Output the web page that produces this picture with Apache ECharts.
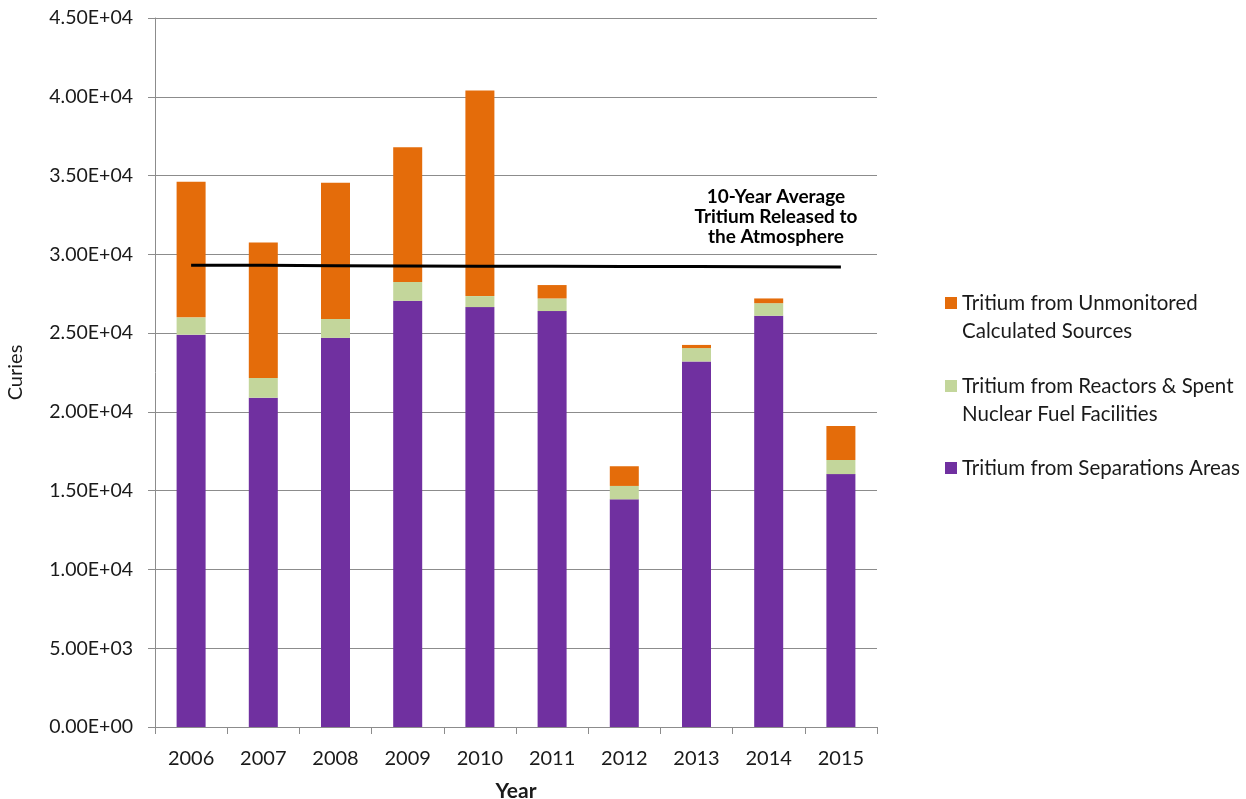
<!DOCTYPE html>
<html>
<head>
<meta charset="utf-8">
<script src="https://cdn.jsdelivr.net/npm/echarts@6/dist/echarts.min.js"></script>
<style>
html,body{margin:0;padding:0;background:#fff;}
#chart{width:1246px;height:799px;}
</style>
</head>
<body>
<div id="chart"></div>
<script>
var years = ['2006','2007','2008','2009','2010','2011','2012','2013','2014','2015'];
var separations = [24900, 20900, 24700, 27050, 26650, 26400, 14450, 23200, 26100, 16050];
var reactors    = [1100, 1250, 1200, 1200, 700, 800, 850, 850, 800, 900];
var unmonitored = [8600, 8600, 8650, 8550, 13050, 850, 1250, 200, 300, 2150];
var tenYearAverage = [29300, 29300, 29280, 29260, 29250, 29240, 29230, 29220, 29210, 29200];
var seriesNames = ['Tritium from Separations Areas', 'Tritium from Reactors & Spent Nuclear Fuel Facilities', 'Tritium from Unmonitored Calculated Sources'];
var legendText = {
  'Tritium from Unmonitored Calculated Sources': '\nTritium from Unmonitored\nCalculated Sources',
  'Tritium from Reactors & Spent Nuclear Fuel Facilities': '\nTritium from Reactors & Spent\nNuclear Fuel Facilities',
  'Tritium from Separations Areas': 'Tritium from Separations Areas'
};
var avgLabel = '10-Year Average\nTritium Released to\nthe Atmosphere';

var chart = echarts.init(document.getElementById('chart'));
var gridColor = '#8c8c8c';
var legendFont = {fontFamily: 'Lato', fontSize: 20.5, color: '#1a1a1a', lineHeight: 28};
function mkLegend(name, top) {
  return {
    data: [name], left: 945, top: top, orient: 'vertical', padding: 0,
    itemWidth: 12, itemHeight: 12, itemGap: 0, icon: 'rect',
    textStyle: legendFont, selectedMode: false,
    formatter: function (n) { return legendText[n]; }
  };
}
function fmtSci(v) {
  var s = v.toExponential(2).toUpperCase();
  var m = s.split('E');
  var sign = m[1].charAt(0);
  var ex = m[1].slice(1);
  if (ex.length < 2) ex = '0' + ex;
  return m[0] + 'E' + sign + ex;
}
chart.setOption({
  animation: false,
  backgroundColor: '#fff',
  grid: {left: 155, right: 369, top: 18, bottom: 72, containLabel: false, outerBoundsMode: 'none'},
  legend: [
    mkLegend(seriesNames[2], 261),
    mkLegend(seriesNames[1], 344),
    mkLegend(seriesNames[0], 454)
  ],
  xAxis: {
    type: 'category', data: years,
    name: 'Year', nameLocation: 'middle', nameGap: 54,
    nameTextStyle: {fontFamily: 'Lato', fontWeight: 'bold', fontSize: 21, color: '#1a1a1a'},
    axisLine: {lineStyle: {color: gridColor, width: 1}},
    axisTick: {show: true, length: 7, lineStyle: {color: gridColor}},
    axisLabel: {fontFamily: 'Lato', fontSize: 20, color: '#1a1a1a', margin: 22}
  },
  yAxis: {
    type: 'value', min: 0, max: 45000, interval: 5000,
    name: 'Curies', nameLocation: 'middle', nameGap: 129,
    nameTextStyle: {fontFamily: 'Lato', fontSize: 20, color: '#1a1a1a'},
    axisLine: {show: true, lineStyle: {color: gridColor, width: 1}},
    axisTick: {show: true, length: 7, lineStyle: {color: gridColor}},
    splitLine: {lineStyle: {color: gridColor, width: 1}},
    axisLabel: {fontFamily: 'Lato', fontSize: 19.5, color: '#1a1a1a', margin: 22, formatter: fmtSci}
  },
  series: [
    {name: seriesNames[0], type: 'bar', stack: 't', data: separations, barWidth: 29, itemStyle: {color: '#7030A0'}},
    {name: seriesNames[1], type: 'bar', stack: 't', data: reactors, barWidth: 29, itemStyle: {color: '#C3D69B'}},
    {name: seriesNames[2], type: 'bar', stack: 't', data: unmonitored, barWidth: 29, itemStyle: {color: '#E46C0A'}},
    {name: 'avg', type: 'line', data: tenYearAverage, symbol: 'none', z: 5,
     lineStyle: {color: '#000', width: 3},
     endLabel: {show: true, formatter: avgLabel, position: 'top', offset: [-73, -50],
       fontFamily: 'Lato', fontWeight: 'bold', fontSize: 19, lineHeight: 20, color: '#000', align: 'center'}}
  ]
});
</script>
</body>
</html>
